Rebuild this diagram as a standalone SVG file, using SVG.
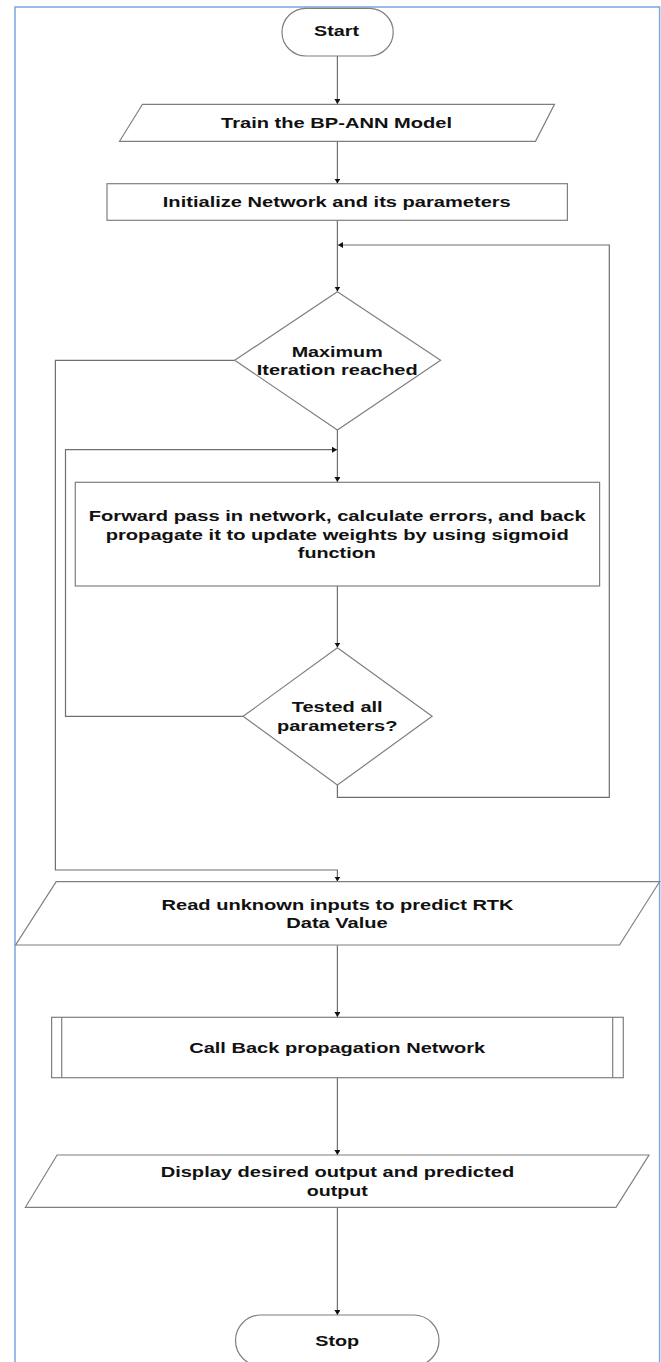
<svg xmlns="http://www.w3.org/2000/svg" width="661" height="1362" viewBox="0 0 661 1362">
<style>
.shape{fill:#fff;stroke:#7f7f7f;stroke-width:1.2}
.conn{fill:none;stroke:#6f6f6f;stroke-width:1.2}
.t{font-family:"Liberation Sans",Arial,sans-serif;font-weight:bold;font-size:15.5px;fill:#111;text-anchor:middle}
</style>
<defs>
<marker id="ah" markerUnits="userSpaceOnUse" markerWidth="8" markerHeight="8" refX="5" refY="3" orient="auto">
<path d="M0,0 L5,3 L0,6 Z" fill="#111"/>
</marker>
</defs>
<rect x="0" y="0" width="661" height="1362" fill="#fff"/>
<rect id="frame" x="15" y="7" width="644.6" height="1400" fill="none" stroke="#7ba6de" stroke-width="1.5"/>

<g id="connectors">
<path class="conn" d="M337.4 56 V104" marker-end="url(#ah)"/>
<path class="conn" d="M337.4 141.3 V183.5" marker-end="url(#ah)"/>
<path class="conn" d="M337.4 220.3 V291.5" marker-end="url(#ah)"/>
<path class="conn" d="M337.4 785 V797.3 H609.3 V245 H338" marker-end="url(#ah)"/>
<path class="conn" d="M234.7 360.3 H55.4 V870 H337.4 V881.5" marker-end="url(#ah)"/>
<path class="conn" d="M337.4 430 V482" marker-end="url(#ah)"/>
<path class="conn" d="M243.1 716.3 H65.5 V449.7 H337" marker-end="url(#ah)"/>
<path class="conn" d="M337.4 586 V647.5" marker-end="url(#ah)"/>
<path class="conn" d="M337.4 945.5 V1017" marker-end="url(#ah)"/>
<path class="conn" d="M337.4 1077.7 V1155" marker-end="url(#ah)"/>
<path class="conn" d="M337.4 1207.3 V1315" marker-end="url(#ah)"/>
</g>

<g id="start">
<rect class="shape" x="282" y="8.3" width="111.2" height="47.7" rx="24" ry="24"/>
<text class="t" x="336.5" y="36.3" textLength="45" lengthAdjust="spacingAndGlyphs">Start</text>
</g>

<g id="train">
<polygon class="shape" points="142.5,104.3 554.5,104.3 535.5,141.3 119.5,141.3"/>
<text class="t" x="336.5" y="128.3" textLength="231" lengthAdjust="spacingAndGlyphs">Train the BP-ANN Model</text>
</g>

<g id="init">
<rect class="shape" x="107" y="183.7" width="460.4" height="36.6"/>
<text class="t" x="336.8" y="207.3" textLength="348" lengthAdjust="spacingAndGlyphs">Initialize Network and its parameters</text>
</g>

<g id="maxiter">
<polygon class="shape" points="337.4,291.7 440.6,360.3 337.4,430 234.7,360.3"/>
<text class="t" x="337.2" y="356.7" textLength="91" lengthAdjust="spacingAndGlyphs">Maximum</text>
<text class="t" x="337.2" y="375" textLength="161" lengthAdjust="spacingAndGlyphs">Iteration reached</text>
</g>

<g id="forward">
<rect class="shape" x="75.3" y="482.3" width="524.3" height="103.7"/>
<text class="t" x="337.2" y="521" textLength="497" lengthAdjust="spacingAndGlyphs">Forward pass in network, calculate errors, and back</text>
<text class="t" x="337.2" y="539.7" textLength="463" lengthAdjust="spacingAndGlyphs">propagate it to update weights by using sigmoid</text>
<text class="t" x="336.8" y="558.3" textLength="78" lengthAdjust="spacingAndGlyphs">function</text>
</g>

<g id="tested">
<polygon class="shape" points="337.4,647.7 432.1,716.3 337.4,785 243.1,716.3"/>
<text class="t" x="337.2" y="711.7" textLength="91" lengthAdjust="spacingAndGlyphs">Tested all</text>
<text class="t" x="337.2" y="730.7" textLength="120.5" lengthAdjust="spacingAndGlyphs">parameters?</text>
</g>

<g id="read">
<polygon class="shape" points="56.2,881.7 659.6,881.7 619.5,945 15.6,945"/>
<text class="t" x="337.6" y="909.7" textLength="352" lengthAdjust="spacingAndGlyphs">Read unknown inputs to predict RTK</text>
<text class="t" x="337" y="928" textLength="101.5" lengthAdjust="spacingAndGlyphs">Data Value</text>
</g>

<g id="callbp">
<rect class="shape" x="51.6" y="1017.3" width="571.7" height="60.4"/>
<line class="shape" x1="61.7" y1="1017.3" x2="61.7" y2="1077.7"/>
<line class="shape" x1="612.7" y1="1017.3" x2="612.7" y2="1077.7"/>
<text class="t" x="337.2" y="1052.7" textLength="296" lengthAdjust="spacingAndGlyphs">Call Back propagation Network</text>
</g>

<g id="display">
<polygon class="shape" points="57.1,1155 649,1155 616,1207.3 25.4,1207.3"/>
<text class="t" x="337.4" y="1177" textLength="353.5" lengthAdjust="spacingAndGlyphs">Display desired output and predicted</text>
<text class="t" x="337.2" y="1195.7" textLength="61" lengthAdjust="spacingAndGlyphs">output</text>
</g>

<g id="stop">
<rect class="shape" x="235.5" y="1315" width="203.5" height="51" rx="25.5" ry="25.5"/>
<text class="t" x="337.2" y="1346.3" textLength="44" lengthAdjust="spacingAndGlyphs">Stop</text>
</g>
</svg>
